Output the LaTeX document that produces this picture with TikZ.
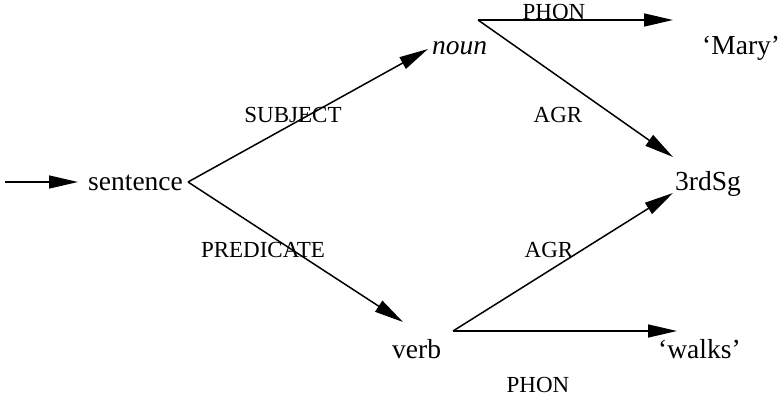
\documentclass[tikz,border=0pt]{standalone}
\usepackage{fontspec}
\setmainfont{Liberation Serif}
\usetikzlibrary{arrows.meta}
\begin{document}
\begin{tikzpicture}[x=1pt,y=-1pt,
 word/.style={inner sep=0pt,font=\fontsize{27.5}{30}\selectfont},
 lab/.style={inner sep=0pt,font=\fontsize{23}{25}\selectfont},
 arc/.style={line width=1.5pt,-{Triangle[length=29pt,width=13pt]}},
 seg/.style={line width=1.5pt}]
\useasboundingbox (0,0) rectangle (779,396);
% words
\node[word,anchor=base west] (sentence) at (88,190) {sentence};
\node[word,anchor=base west] (noun) at (432,55) {\itshape noun};
\node[word,anchor=base west] (mary) at (702,55) {‘Mary’};
\node[word,anchor=base west] (sg) at (675,190) {3rdSg};
\node[word,anchor=base west] (verb) at (392,358) {verb};
\node[word,anchor=base west] (walks) at (658,358) {‘walks’};
% labels
\node[lab,anchor=base] (l1) at (293,122) {SUBJECT};
\node[lab,anchor=base] (l2) at (263,257) {PREDICATE};
\node[lab,anchor=base] (l3) at (558,122) {AGR};
\node[lab,anchor=base] (l4) at (549,257) {AGR};
\node[lab,anchor=base] (l5) at (554,20) {PHON};
\node[lab,anchor=base] (l6) at (538,392) {PHON};
% connector points
\coordinate (entry) at (5,182);
\coordinate (entrytip) at (78,182);
\coordinate (sb) at (188,182);
\coordinate (nountip) at (428,49);
\coordinate (verbtip) at (403,322);
\coordinate (nb) at (478,20);
\coordinate (marytip) at (673,20);
\coordinate (sgtipA) at (673,157);
\coordinate (vb) at (453,331);
\coordinate (sgtipB) at (673,193);
\coordinate (walkstip) at (677,331);
% connectors
\draw[arc] (entry) -- (entrytip);
\draw[arc] (sb) -- (nountip);
\draw[arc] (sb) -- (verbtip);
\draw[arc] (nb) -- (marytip);
\draw[arc] (nb) -- (sgtipA);
\draw[arc] (vb) -- (sgtipB);
\draw[arc] (vb) -- (walkstip);
\end{tikzpicture}
\end{document}
